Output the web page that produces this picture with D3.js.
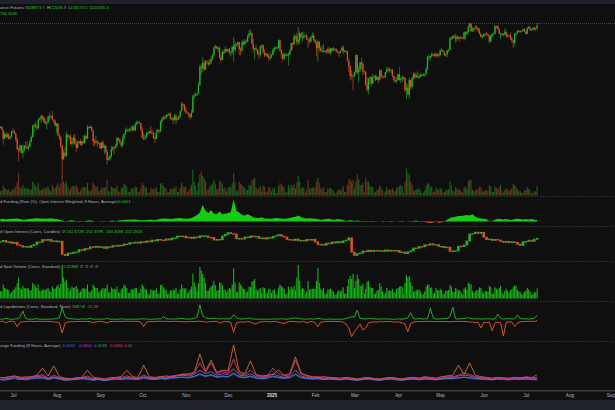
<!DOCTYPE html>
<html><head><meta charset="utf-8">
<script src="https://cdn.jsdelivr.net/npm/d3@7"></script>
<style>html,body{margin:0;padding:0;background:#0f0f0f;overflow:hidden}svg{display:block}</style>
</head><body><svg id="c" width="615" height="410"></svg>
<script>
// ---------- DATA ----------
// Daily BTC perpetual candles (k USD), 2024-06-22 .. 2025-07-09
const firstOpen = 64.1;
const close = [
64.2,63.2,60.3,61.8,60.9,61.6,60.3,60.9,62.7,
62.8,62.0,60.2,57.0,56.6,58.2,55.9,56.7,58.0,57.7,57.3,57.9,59.2,60.8,64.7,65.0,64.1,63.9,66.7,67.1,68.2,67.6,65.9,65.4,65.8,67.9,68.0,68.2,66.8,66.2,64.6,
65.4,61.5,60.7,58.1,54.0,56.0,55.1,61.7,60.9,61.0,58.7,59.4,60.6,58.7,57.5,58.9,59.5,58.4,59.5,59.0,61.2,60.4,64.1,64.2,64.2,62.9,59.5,59.0,59.4,59.1,58.9,
57.3,59.1,57.5,58.0,56.2,53.9,54.2,54.9,57.0,57.6,57.3,58.1,60.6,60.0,59.2,58.2,60.3,61.8,62.9,63.2,63.3,63.6,63.3,64.3,63.1,65.2,65.8,65.9,65.6,63.3,
60.8,60.6,60.8,62.1,62.1,62.8,62.2,62.1,60.6,60.3,62.4,63.2,62.9,66.0,67.0,67.6,67.4,68.4,68.4,69.0,67.4,67.4,66.7,68.2,66.6,67.0,68.0,69.9,72.7,72.3,70.2,
69.5,69.3,68.7,67.8,69.4,75.6,75.9,76.5,76.7,80.4,88.7,87.9,90.5,87.3,91.1,90.6,89.8,90.5,92.3,94.3,98.3,98.9,97.7,98.0,93.0,91.9,95.9,95.6,97.5,96.4,
97.2,95.8,96.0,98.8,97.0,99.9,99.9,101.2,97.4,96.7,101.2,100.0,101.4,101.4,104.3,106.0,106.1,100.2,97.5,97.8,97.2,95.1,94.7,98.7,99.4,95.8,94.2,95.1,93.7,92.8,93.4,
94.4,96.9,98.1,98.2,98.3,102.1,96.9,95.0,92.5,94.7,94.5,94.5,94.5,96.5,100.5,99.9,104.1,104.4,101.1,102.3,106.1,103.7,103.9,104.8,104.7,102.6,102.1,101.3,103.7,104.7,102.4,
100.6,97.7,101.4,97.9,96.6,96.6,96.5,96.5,96.1,97.4,95.7,97.9,96.6,97.5,97.6,96.1,95.8,95.5,96.6,98.3,96.1,96.6,96.3,91.5,88.7,84.3,84.7,84.4,
86.0,94.3,86.1,87.2,90.6,89.9,86.7,86.1,80.7,78.5,82.9,83.7,81.1,83.9,84.3,82.6,84.0,82.7,86.8,84.2,84.0,83.8,86.1,87.5,87.4,86.9,87.2,84.4,82.6,82.4,82.5,
85.2,82.5,83.1,83.8,83.5,78.2,79.2,76.3,82.6,79.6,83.4,85.3,83.7,84.5,83.6,84.0,84.9,84.4,85.1,85.2,87.5,93.4,93.7,93.9,94.7,94.6,93.8,95.0,94.3,94.2,
96.5,96.9,95.9,94.3,94.7,96.8,97.0,103.2,102.9,104.6,104.1,102.8,104.1,103.5,103.7,103.5,103.1,106.5,105.6,106.8,109.7,111.7,107.3,107.8,109.0,109.4,108.9,107.8,105.6,103.9,104.6,
105.7,105.8,105.4,104.7,101.5,104.3,105.6,105.7,110.3,110.2,108.6,105.9,106.1,105.4,105.5,106.8,104.6,104.9,104.6,103.3,102.1,100.9,105.4,106.0,107.3,106.9,107.1,107.3,108.4,107.1,
105.7,108.8,109.6,108.0,108.2,109.2,108.3,108.9,110.6];
const high = [
64.5,64.5,63.4,62.4,62.4,62.3,62.2,61.2,63.0,
63.8,63.2,62.3,60.5,57.5,58.5,58.2,58.2,58.3,59.4,59.5,58.5,59.9,61.4,64.9,65.4,66.1,65.1,67.4,67.6,68.3,68.5,67.8,67.1,66.2,68.2,69.4,68.3,70.0,66.9,66.8,
65.6,65.6,62.2,61.1,58.3,57.0,57.7,62.7,61.7,61.5,61.8,60.7,61.6,61.8,59.8,59.8,59.6,60.3,59.6,61.4,61.8,61.4,64.9,64.5,65.0,64.5,63.2,60.2,61.2,59.9,59.4,
59.0,59.4,59.8,58.5,58.3,57.0,54.8,55.3,58.1,58.0,57.9,58.6,60.7,60.6,60.4,59.2,61.3,62.0,63.9,64.1,63.5,64.0,64.7,64.8,64.8,65.8,66.5,66.3,66.1,65.6,
64.1,62.4,61.5,62.5,62.4,63.0,64.5,63.2,62.5,61.3,63.4,63.5,63.3,66.5,67.9,68.4,68.0,68.9,68.7,69.4,69.5,67.8,67.5,68.8,69.0,67.5,68.3,70.2,73.6,72.9,72.7,
71.6,69.9,69.3,69.0,70.5,76.4,76.9,77.2,76.9,81.5,89.6,89.9,93.4,91.8,91.9,91.8,91.7,92.6,94.0,94.9,98.9,99.8,98.8,98.6,98.9,94.7,97.2,96.6,98.7,97.5,
97.8,98.1,96.3,99.0,104.0,101.9,100.5,101.4,101.2,98.3,101.9,102.5,102.6,102.6,105.3,107.8,108.3,106.5,102.8,98.2,99.5,97.4,96.4,99.4,99.9,99.9,97.3,95.5,95.2,94.9,96.1,
94.9,97.8,98.9,98.7,98.8,102.5,102.7,97.2,95.3,95.8,95.0,95.4,95.8,97.4,100.7,100.9,105.9,104.9,106.3,109.6,107.2,106.3,106.8,107.1,105.3,105.5,103.2,103.8,104.8,106.5,106.0,
102.8,101.5,102.5,101.7,99.0,99.2,100.1,96.9,97.3,98.3,98.5,98.1,97.9,98.7,97.9,97.7,97.0,96.0,96.9,98.7,99.5,96.9,96.7,96.5,92.5,89.3,87.0,85.0,
86.5,95.0,94.4,88.9,91.0,92.8,91.2,86.8,86.5,83.9,83.6,84.3,84.3,85.3,84.7,85.1,84.7,84.0,87.4,87.4,84.7,84.5,86.2,88.8,88.5,88.3,87.8,87.5,84.6,83.9,83.9,
85.5,88.5,83.9,84.7,84.2,83.8,81.2,80.8,83.6,82.7,84.3,85.9,86.1,85.8,86.5,85.5,85.5,85.1,85.6,85.3,88.5,93.9,94.7,94.0,95.8,95.3,95.3,95.6,95.5,95.2,
97.4,97.9,97.0,96.3,95.2,96.9,97.7,104.0,104.3,104.9,105.0,105.8,105.0,104.3,104.2,104.6,103.7,107.1,107.1,107.3,110.8,112.0,111.9,109.5,109.3,110.4,110.7,109.3,108.9,106.3,104.9,
105.9,105.9,106.8,105.9,105.0,105.4,105.9,106.4,110.6,110.4,110.4,108.8,106.2,106.2,106.0,108.9,107.7,105.6,105.2,106.5,104.0,102.0,106.1,106.3,108.1,108.0,107.8,107.5,108.5,108.8,
107.2,109.8,110.5,109.7,108.4,109.5,109.8,109.2,112.0];
const low = [
63.9,63.2,58.4,60.2,60.7,60.6,60.0,60.3,60.7,
62.5,61.8,59.4,56.8,53.5,56.0,55.8,54.3,56.3,57.2,57.1,56.6,57.8,59.3,60.7,62.4,63.9,63.2,63.3,66.6,65.7,66.6,65.5,65.1,63.4,65.8,66.7,67.1,66.5,65.3,64.6,
62.3,61.3,59.9,57.2,49.0,54.0,54.6,54.7,59.6,60.3,58.4,57.7,58.5,58.4,56.2,57.1,58.8,58.4,57.9,58.6,58.8,59.8,60.3,63.6,63.9,62.8,58.1,57.9,58.8,57.8,58.7,
57.2,57.1,57.4,55.6,55.7,52.6,53.7,53.6,54.6,56.4,55.6,57.3,57.6,59.5,58.7,57.5,57.7,59.2,61.6,62.4,62.8,62.3,62.8,62.7,62.8,62.7,64.8,65.4,65.4,62.9,
60.2,59.9,59.8,60.5,61.7,62.0,62.1,61.8,60.3,58.9,60.1,62.4,62.0,62.4,64.8,66.7,66.7,67.1,68.0,68.1,66.6,66.6,65.3,66.4,65.1,66.5,66.8,67.6,69.7,71.4,69.7,
68.8,69.1,67.5,66.8,67.4,69.3,74.7,75.6,75.9,76.5,80.2,85.1,86.2,86.7,87.1,90.1,88.9,89.4,90.0,91.6,94.0,97.2,97.2,95.8,92.6,90.8,91.8,94.6,95.4,96.1,
95.7,94.5,93.6,94.6,91.0,95.9,98.8,98.8,94.2,94.2,95.7,99.3,99.2,100.6,101.2,103.3,105.3,100.0,95.6,92.2,96.4,94.2,92.4,93.4,97.6,95.2,93.4,94.0,93.3,91.3,92.0,
92.8,94.2,96.0,97.7,97.3,97.9,96.1,92.5,91.2,92.2,93.8,93.7,89.2,94.3,96.5,97.3,99.9,102.3,99.5,99.6,100.1,103.3,101.3,102.8,104.1,102.5,97.8,100.3,101.3,103.3,101.6,
100.3,93.7,91.2,96.2,96.2,95.7,95.7,95.7,94.8,95.3,94.9,94.1,95.3,96.4,97.3,96.0,95.3,93.4,95.2,96.5,94.8,95.8,95.2,91.2,86.1,82.3,82.8,78.2,
83.9,85.1,85.1,81.5,86.3,87.8,84.7,85.3,80.0,77.5,76.6,80.8,79.9,80.8,83.6,82.0,82.5,81.1,82.3,83.7,83.2,83.6,83.8,85.5,86.3,85.9,85.8,83.6,81.6,81.3,81.3,
82.4,82.3,81.2,81.7,82.4,77.2,74.5,76.2,74.6,78.4,78.9,82.7,83.0,83.7,83.6,83.1,83.8,84.2,84.4,83.9,85.1,87.0,91.9,91.7,92.9,93.9,93.6,92.9,93.7,92.9,
94.1,96.3,95.7,94.0,93.5,93.4,95.8,96.9,102.3,102.8,103.4,100.7,101.4,102.6,101.4,103.1,102.6,102.6,102.0,104.9,106.1,109.3,106.8,106.9,106.7,108.8,107.5,106.7,105.3,103.7,103.1,
103.8,103.7,104.9,104.2,100.4,101.1,103.9,105.1,105.4,108.4,108.1,105.7,102.7,104.3,104.5,104.9,103.4,103.6,103.9,102.3,100.8,98.2,99.6,104.7,105.9,106.6,106.4,106.9,107.2,106.8,
105.3,105.6,108.6,107.3,107.8,107.8,107.5,107.5,108.3];
// Daily futures volume (relative units)
const volume = [
12,14,30,22,18,16,18,10,14,
20,18,26,38,64,24,20,30,22,20,22,20,16,18,40,34,28,24,36,16,16,18,22,18,24,26,16,12,30,22,22,
28,36,24,34,55,40,34,40,24,14,20,28,26,26,30,22,10,14,22,24,24,22,36,14,12,18,36,30,24,26,12,
16,20,24,22,24,45,12,12,26,22,22,20,28,12,10,20,24,34,30,24,10,10,20,20,20,26,24,10,10,22,
36,30,24,22,8,8,22,20,18,20,24,10,10,34,36,28,22,20,8,10,20,18,22,20,26,10,10,22,36,26,24,
26,10,14,22,30,73,40,28,14,38,60,68,56,50,40,16,18,26,30,34,44,34,18,20,42,40,34,20,22,12,
20,26,24,36,64,40,12,14,40,34,30,24,22,14,16,30,28,44,46,50,22,18,22,26,12,28,26,10,12,24,22,
12,20,22,8,8,28,36,32,28,24,8,10,30,22,30,24,32,20,38,57,40,20,24,22,8,16,44,20,20,22,24,
22,40,51,36,22,18,24,10,10,20,20,22,18,14,6,8,14,18,14,18,26,10,10,30,44,48,40,44,
20,40,60,46,30,30,36,10,51,40,40,28,24,24,8,10,16,18,28,22,14,6,12,24,16,18,16,22,14,12,22,
24,28,30,26,8,40,77,63,60,40,30,14,14,18,18,20,14,8,8,14,28,37,32,24,26,10,12,24,18,16,
22,18,8,10,16,16,18,40,28,14,12,24,20,16,18,12,8,22,26,18,40,46,44,16,12,14,18,18,26,24,14,
10,16,14,14,30,26,10,10,26,22,18,24,30,12,8,16,22,16,12,18,20,34,30,24,18,14,12,8,8,14,
16,24,20,14,6,8,12,12,26];
// Daily aggregated spot volume (relative units)
const spotVolume = [
22,20,40,30,28,26,24,14,18,
24,26,32,44,60,30,26,36,30,28,30,28,22,24,44,40,34,30,40,22,22,24,26,24,28,30,22,18,34,28,28,
34,40,30,42,95,60,48,54,30,20,26,34,30,32,36,28,16,20,28,30,28,28,40,20,18,24,40,34,30,30,18,
22,26,30,28,30,40,18,18,32,28,28,26,34,18,16,26,30,40,36,30,16,16,26,26,26,30,30,16,16,28,
40,34,28,26,12,12,26,24,22,24,28,14,14,38,40,32,26,24,12,14,24,22,26,24,30,14,14,26,40,30,28,
30,14,18,26,34,70,46,34,20,44,90,80,70,60,44,22,22,30,34,38,50,38,22,24,46,44,38,24,26,18,
24,30,28,40,86,46,18,20,46,40,34,28,26,18,20,34,32,48,50,56,26,22,26,30,16,32,30,14,16,28,26,
16,24,26,12,12,32,40,36,32,28,12,14,34,26,34,28,36,24,60,96,50,26,30,28,12,20,50,26,26,28,28,
28,50,87,44,28,24,30,14,14,26,26,28,24,20,10,12,20,24,20,24,32,14,14,36,56,64,56,70,
30,50,68,56,36,36,42,14,28,48,50,34,30,30,12,14,22,24,44,34,20,10,16,30,22,24,22,28,18,16,28,
30,34,36,32,12,44,67,60,64,46,36,20,20,24,24,26,20,12,12,20,34,41,38,30,32,14,16,30,24,22,
28,24,12,14,22,22,24,39,34,20,18,30,26,22,24,18,12,28,32,24,45,42,40,22,16,20,24,24,32,30,20,
14,22,20,20,36,32,14,14,32,28,24,30,36,16,12,22,28,22,16,24,26,32,38,36,24,20,18,12,12,20,
22,30,26,20,10,12,18,18,29];
// Every 2 days from 2024-06-22: OI-weighted funding rate (0.001 %)
const fundingRate = [
8,9,7,8,9,
9,10,8,6,7,8,9,10,11,10,10,9,10,11,9,
8,6,3,-2,2,4,3,-1,2,-2,1,3,4,2,0,-1,
1,-2,0,2,3,1,3,4,5,6,6,7,7,5,4,
4,5,6,6,5,7,9,10,10,9,8,10,11,12,10,
9,10,12,16,22,30,55,36,28,38,26,24,33,24,26,
28,32,74,35,30,22,20,24,20,14,12,12,14,10,10,9,
10,12,11,10,9,10,12,14,16,20,14,12,10,11,10,
9,8,6,7,8,9,7,6,8,7,5,2,3,4,
2,3,2,1,2,1,2,1,1,0,-2,-1,1,2,1,0,
1,2,0,1,-1,2,3,1,2,-2,-4,-5,-3,-1,-4,
-3,1,6,12,14,16,18,18,20,22,20,24,16,12,10,
9,8,-1,-2,6,9,8,7,8,6,5,8,9,8,7,
8,7,8,6,6];
// Every 2 days: aggregated open interest (K coins)
const openInterest = [
249,250.2,248.3,248.8,247.2,
248.3,245.6,244.9,243.5,244.2,243.2,245,246,248.6,248.4,251,250.2,251.3,249.2,249.8,
248.8,249.4,236.2,235,237.5,237.2,238.4,238.6,241,240.2,242,241.8,243.8,243.2,244.3,243.2,
243.8,242.2,243.9,243.4,245,244.3,245.4,245,246.6,246.3,247.9,247.5,248.5,247.4,248.9,
248.2,249.6,248.8,250.5,249.7,251.2,250.6,250.2,251.6,250.7,252.5,252.6,254.6,253.9,254.5,
252.8,253.4,252.1,253.6,252.9,254.8,253.9,254.6,253.2,253.1,250.6,251.2,250.9,254.6,256.2,
258,257,256.5,251.8,252.2,251.6,253.6,252.9,254.6,253.8,254.2,252.3,252.7,251.6,253.1,252.4,
254.2,254.8,256,254.4,253.6,251.2,251,250.2,251.6,249.9,250.3,249.6,251.2,250.4,251.3,
248.6,246.1,246.3,245.4,247.5,246.9,248.6,247.6,249.1,247.9,249.8,250.5,252.8,238.5,
235.2,237,237.6,239.5,239,240.4,239.1,240.3,239.5,240,239.2,240.7,239.3,240.3,239.6,240.1,
238.2,238.6,237,238.8,239.6,242.6,242.4,244,243.8,245.8,245.6,246.9,245.7,246,244.2,
244.2,243,243.5,239.2,239.6,239.8,244.4,244,245.6,249.6,256.6,257,258.4,257.2,258.3,
253.4,251,251.6,250.2,251.2,250.6,249.3,248.2,249.2,247.9,248.9,248.2,246.4,245.2,248.9,
249.2,250.4,249.3,251.3,252.3];
// Every 2 days: liquidations (coins), longs positive / shorts negative
const liqLong = [
200,180,300,220,160,
180,260,500,1490,300,180,160,200,260,180,150,170,200,160,220,
260,400,2016,600,300,250,200,180,160,240,180,200,300,160,200,180,
180,200,300,160,200,150,180,220,200,170,160,200,180,160,240,
220,200,180,160,200,240,180,576,250,200,180,220,220,300,260,
200,180,220,300,500,2450,700,400,300,260,350,300,200,260,240,
220,300,900,400,250,200,260,300,350,200,180,160,200,180,160,200,
180,220,200,260,200,180,240,300,400,300,220,200,180,240,200,
200,300,250,180,160,200,180,160,200,180,160,300,400,600,
500,1650,300,250,200,300,260,220,200,180,240,200,220,180,160,200,
200,180,250,400,1216,260,200,300,200,220,260,1920,400,220,200,
220,300,300,600,2080,260,200,260,300,400,350,260,200,240,220,
200,260,240,200,200,1000,300,200,240,260,200,220,850,300,200,
240,200,260,300,848];
const liqShort = [
-200,-160,-400,-200,-150,
-200,-1024,-300,-250,-200,-180,-160,-200,-180,-150,-200,-160,-180,-200,-250,
-300,-400,-2030,-500,-300,-200,-250,-180,-200,-160,-200,-180,-200,-400,-250,-200,
-200,-300,-400,-200,-180,-160,-200,-180,-160,-150,-180,-160,-150,-180,-300,
-1024,-300,-200,-180,-200,-160,-150,-180,-160,-200,-180,-160,-180,-200,-250,
-250,-200,-180,-200,-160,-150,-200,-300,-250,-200,-180,-160,-400,-300,-200,
-200,-300,-1920,-400,-300,-250,-300,-200,-250,-500,-600,-300,-250,-200,-200,-250,
-200,-180,-300,-400,-500,-300,-200,-180,-200,-300,-250,-200,-400,-250,-200,
-400,-1024,-300,-250,-200,-180,-200,-160,-200,-180,-300,-600,-1200,-2620,
-1800,-1230,-600,-1550,-1200,-400,-300,-250,-300,-200,-250,-200,-180,-200,-300,-250,
-300,-400,-600,-1820,-500,-300,-200,-200,-180,-200,-160,-180,-200,-180,-200,
-200,-180,-200,-250,-200,-180,-200,-160,-180,-200,-300,-250,-400,-300,-1230,
-300,-400,-300,-1660,-400,-300,-400,-2510,-300,-250,-300,-1024,-400,-250,-200,
-200,-180,-150,-200,-35];
// Every 4 days from 2024-06-20: exchange funding (0.001 %)
const exBlue = [6,2,4,8,5,3,6,8,10,4,8,5,2,3,4,6,5,2,4,1,3,5,4,6,5,4,8,5,4,6,5,8,9,10,8,12,18,12,16,10,12,11,20,10,9,12,8,6,8,12,9,7,9,18,9,7,5,6,4,5,4,3,5,3,2,4,5,3,2,4,5,3,2,4,5,3,5,4,3,5,6,6,8,10,8,6,5,4,3,5,4,3,5,4,5,4,3];
const exPurple = [8,10,6,12,8,6,10,12,14,6,12,8,4,6,5,8,10,4,6,3,5,8,7,10,8,6,12,8,6,10,8,12,14,16,14,18,30,20,26,16,20,18,34,16,14,20,12,10,12,20,14,10,14,30,14,10,8,9,6,8,6,4,8,5,3,6,8,4,3,6,8,5,3,6,8,5,8,6,5,8,10,9,14,16,14,10,8,6,5,8,6,5,8,6,8,7,5];
const exTeal = [5,4,6,7,4,5,7,9,8,5,9,6,3,4,5,7,6,3,5,2,4,6,5,7,6,5,9,6,5,7,6,9,10,11,10,13,20,14,18,12,14,12,22,12,10,14,9,7,9,14,10,8,10,20,10,8,6,7,5,6,5,4,6,4,3,5,6,4,3,5,6,4,3,5,6,4,6,5,4,6,7,7,9,11,9,7,6,5,4,6,5,4,6,5,6,5,4];
const exPink = [12,8,10,14,6,12,10,14,18,8,16,10,6,4,8,10,14,6,8,4,6,8,10,14,10,8,16,10,8,12,10,14,16,20,18,22,50,24,50,20,26,22,61,20,18,30,16,12,14,36,20,14,18,58,20,14,10,12,8,10,8,6,10,6,4,8,10,6,4,8,10,6,4,8,10,6,10,8,6,10,14,12,16,22,18,12,10,8,6,10,8,6,10,8,12,10,17];
const exOrange = [10,9,12,14,11,10,12,16,36,14,42,12,8,6,9,10,30,10,8,6,9,10,12,30,12,10,44,12,10,12,14,12,16,18,20,24,75,28,58,24,30,28,100,26,20,56,18,14,16,18,30,16,20,67,22,16,12,10,12,10,9,8,10,8,6,8,9,7,6,8,10,8,6,9,10,8,12,10,8,12,14,16,44,18,50,16,12,10,8,10,9,8,10,9,10,8,10];
// Axis tick labels (month starts 2024-07 .. 2025-09)
const tickLabels = ["Jul","Aug","Sep","Oct","Nov","Dec","2025","Feb","Mar","Apr","May","Jun","Jul","Aug","Sep"];

// ---------- DRAW ----------
const DAY = 864e5;
const t0 = Date.UTC(2024,5,22), t4 = Date.UTC(2024,5,20);
const W = 615, H = 410;
const UP = '#22b422', DN = '#d4541c';
const FONT = '"Liberation Sans", Arial, sans-serif';
const svg = d3.select('#c');
svg.append('rect').attr('width',W).attr('height',H).attr('fill','#0f0f0f');
svg.append('rect').attr('width',W).attr('height',4).attr('fill','#1e222b');
svg.append('rect').attr('y',400).attr('width',W).attr('height',10).attr('fill','#1e222b');

const x = d3.scaleUtc().domain([new Date(Date.UTC(2024,6,1)), new Date(Date.UTC(2025,8,1))]).range([13,613]);
const dDay = i => new Date(t0 + i*DAY), d2 = i => new Date(t0 + 2*i*DAY), d4 = i => new Date(t4 + 4*i*DAY);

// Main price pane
const yP = d3.scaleLog().domain([45,125]).range([193.5,2.5]);
const yV = d3.scaleLinear().domain([0,100]).range([195.5,160.5]);
const candles = close.map((c,i)=>{const o = i ? close[i-1] : firstOpen; return {d:dDay(i),o,c,h:Math.max(high[i],o,c),l:Math.min(low[i],o,c),v:volume[i],sv:spotVolume[i]};});

svg.append('g').selectAll('rect').data(candles).join('rect')
  .attr('x',d=>x(d.d)-0.6).attr('width',1.2)
  .attr('y',d=>yV(d.v)).attr('height',d=>yV(0)-yV(d.v))
  .attr('fill',d=>d.c>=d.o?'#1c5e1c':'#6a311a');

// last high price line
const lastH = high[high.length-1];
svg.append('line').attr('x1',0).attr('x2',W).attr('y1',Math.round(yP(lastH))+0.5).attr('y2',Math.round(yP(lastH))+0.5)
  .attr('stroke','#1d5a1d').attr('stroke-dasharray','1,1').attr('stroke-width',1);

const gC = svg.append('g');
gC.selectAll('line').data(candles).join('line')
  .attr('x1',d=>x(d.d)).attr('x2',d=>x(d.d))
  .attr('y1',d=>yP(d.h)).attr('y2',d=>yP(d.l))
  .attr('stroke',d=>d.c>=d.o?UP:DN).attr('stroke-width',0.8).attr('opacity',0.8);
gC.selectAll('rect').data(candles).join('rect')
  .attr('x',d=>x(d.d)-0.65).attr('width',1.3)
  .attr('y',d=>yP(Math.max(d.o,d.c))).attr('height',d=>Math.max(1,yP(Math.min(d.o,d.c))-yP(Math.max(d.o,d.c))))
  .attr('fill',d=>d.c>=d.o?UP:DN);

// Funding rate pane
const yF = d3.scaleLinear().domain([-10,80]).range([224.5,197.5]);
const fr = fundingRate.map((v,i)=>({d:d2(i),v}));
svg.append('path').datum(fr).attr('fill','#14cc14')
  .attr('d',d3.area().x(d=>x(d.d)).y0(yF(0)).y1(d=>yF(Math.max(0,d.v))));
svg.append('path').datum(fr).attr('fill',DN)
  .attr('d',d3.area().x(d=>x(d.d)).y0(yF(0)).y1(d=>yF(Math.min(0,d.v))));

// Open interest pane (candles)
const yOI = d3.scaleLinear().domain([230,260]).range([260.6,230.6]);
const oi = openInterest.map((c,i)=>({d:d2(i),o:i?openInterest[i-1]:c,c}));
svg.append('g').selectAll('rect').data(oi).join('rect')
  .attr('x',d=>x(d.d)-1.3).attr('width',2.6)
  .attr('y',d=>yOI(Math.max(d.o,d.c))-0.4).attr('height',d=>Math.max(1.5,Math.abs(yOI(d.o)-yOI(d.c))+0.8))
  .attr('fill',d=>d.c>=d.o?UP:DN);

// Spot volume pane
const ySV = d3.scaleLinear().domain([0,100]).range([298.5,263.5]);
svg.append('g').selectAll('rect').data(candles).join('rect')
  .attr('x',d=>x(d.d)-0.55).attr('width',1.1)
  .attr('y',d=>ySV(d.sv)).attr('height',d=>ySV(0)-ySV(d.sv))
  .attr('fill','#16b816');

// Liquidations pane
const yL = d3.scaleLinear().domain([-3000,3000]).range([339.05,301.55]);
const lineL = d3.line().x(d=>x(d.d)).y(d=>yL(d.v));
svg.append('path').datum(liqShort.map((v,i)=>({d:d2(i),v}))).attr('fill','none').attr('stroke',DN).attr('stroke-width',1).attr('d',lineL);
svg.append('path').datum(liqLong.map((v,i)=>({d:d2(i),v}))).attr('fill','none').attr('stroke','#1fae1f').attr('stroke-width',1).attr('d',lineL);

// Exchange funding pane
const yE = d3.scaleLinear().domain([0,100]).range([381,345]);
const lineE = d3.line().x(d=>x(d.d)).y(d=>yE(d.v));
[[exOrange,'#c8702c'],[exTeal,'#2a9d9d'],[exBlue,'#3a6ee0'],[exPurple,'#b445d0'],[exPink,'#e0346e']].forEach(([s,c])=>{
  svg.append('path').datum(s.map((v,i)=>({d:d4(i),v}))).attr('fill','none').attr('stroke',c).attr('stroke-width',0.9).attr('d',lineE);
});

// separators
[196,226,261,301,341].forEach(y=>svg.append('line').attr('x1',0).attr('x2',W).attr('y1',y+0.5).attr('y2',y+0.5)
  .attr('stroke','#2a2a2a').attr('stroke-dasharray','2,1'));
svg.append('rect').attr('x',0).attr('y',390).attr('width',W).attr('height',1.5).attr('fill','#3a3a3a');

// x axis
const monthDates = tickLabels.map((t,i)=>new Date(Date.UTC(2024,6+i,1)));
const ax = svg.append('g').attr('transform','translate(0,391)')
  .call(d3.axisBottom(x).tickValues(monthDates).tickFormat((d,i)=>tickLabels[i]).tickSize(0).tickPadding(3));
ax.select('.domain').remove();
ax.selectAll('text').attr('font-family',FONT).attr('font-size',4.6).attr('fill','#b2b5be')
  .attr('font-weight',(d,i)=>tickLabels[i]==='2025'?'bold':'normal')
  .attr('text-anchor',(d,i)=>i===tickLabels.length-1?'end':'middle')
  .attr('dx',(d,i)=>i===tickLabels.length-1?1.5:0);
ax.selectAll('text').filter((d,i)=>tickLabels[i]==='2025').attr('fill','#e0e0e0');

// labels
function label(y, parts){
  const t = svg.append('text').attr('y',y).attr('font-family',FONT).attr('font-size',4.1);
  parts.forEach(([s,c,xx])=>t.append('tspan').attr('x',xx).attr('fill',c).text(s));
}
const G='#25c425', L='#b2b5be';
label(9.3,[["ance-Futures",L,0],["O",L,25],["108873.7",G,27.5],["H",L,47],["112036.9",G,49.5],["L",L,68.5],["108273.5",G,70.5],["C",L,89.5],["110635.4",G,92]]);
label(15.3,[["734.354K",G,0]]);
label(202.6,[["d Funding (Rate (%), Open Interest Weighted, 8 Hours, Average)",L,0],["0.0061",G,118]]);
label(233.2,[["d Open Interest (Coins, Candles)",L,0],["\u2205",L,62],["241.672K",G,66.5],["252.379K",G,86],["240.406K",G,106],["252.281K",G,125]]);
label(267.6,[["d Spot Volume (Coins, Standard)",L,0],["1.013K",G,63],["\u2205",L,75],["\u2205",L,80],["\u2205",L,85],["\u2205",L,90],["\u2205",L,95]]);
label(308.2,[["d Liquidations (Coins, Standard, None)",L,0],["848.58",G,72.5],["-35.38",DN,86.5]]);
label(346.6,[["ange Funding (8 Hours, Average)",L,0],["0.0032",'#3a6ee0',62.5],["0.0054",'#b445d0',79],["0.0038",'#2a9d9d',94.3],["0.0166",'#e0346e',110],["0.01",'#c8702c',124.3]]);
</script></body></html>
